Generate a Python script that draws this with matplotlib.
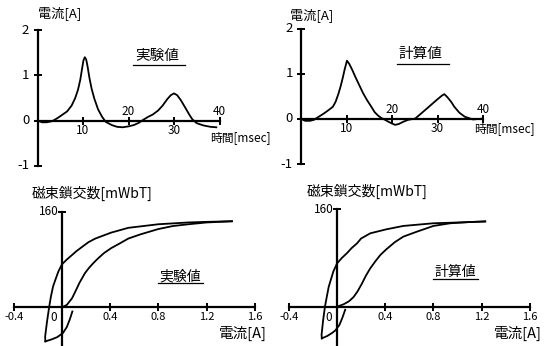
import matplotlib.pyplot as plt

plt.rcParams['font.family'] = ['Noto Sans CJK JP', 'DejaVu Sans']

W, H = 560, 346

# ---- current waveforms (time [msec], current [A]) ----
t_exp = [0, 1, 2, 3, 3.5, 4.5, 5.5, 6.5, 7.5, 8.3, 8.9, 9.4, 9.8, 10.1, 10.4, 10.7,
         11.0, 11.4, 11.9, 12.5, 13.3, 14.2, 15.0, 16.3, 17.5, 18.7, 20.0, 21.2,
         22.3, 23.3, 24.3, 25.3, 26.5, 27.5, 28.5, 29.3, 30.0, 30.7, 31.5, 32.5,
         33.3, 34.0, 35.0, 36.5, 38.0, 39.3]
i_exp = [0, -0.04, -0.04, -0.02, 0, 0.06, 0.13, 0.2, 0.33, 0.5, 0.68, 0.9, 1.15,
         1.33, 1.4, 1.35, 1.2, 0.95, 0.7, 0.48, 0.25, 0.08, -0.03, -0.1, -0.14,
         -0.15, -0.13, -0.1, -0.05, 0.02, 0.08, 0.13, 0.22, 0.33, 0.47, 0.56, 0.6,
         0.56, 0.45, 0.28, 0.14, 0.03, -0.06, -0.11, -0.14, -0.15]

t_calc = [0, 0.9, 2.0, 2.8, 3.9, 5.0, 6.1, 7.0, 7.6, 8.2, 8.7, 9.2, 9.6, 10.1, 10.6,
          11.2, 12.0, 12.8, 13.6, 14.5, 15.4, 16.2, 17.0, 17.7, 18.5, 19.2, 20.0,
          20.7, 21.5, 22.5, 23.5, 25.1, 26.5, 28.1, 29.8, 31.0, 31.5, 32.2, 33.0,
          33.7, 34.8, 36.0, 37.8, 40.0]
i_calc = [0, -0.04, -0.04, -0.02, 0.05, 0.12, 0.2, 0.27, 0.38, 0.55, 0.72, 0.92,
          1.1, 1.29, 1.22, 1.1, 0.92, 0.75, 0.58, 0.42, 0.28, 0.15, 0.07, 0.02,
          -0.02, -0.06, -0.1, -0.13, -0.11, -0.06, -0.02, 0.01, 0.13, 0.27, 0.42,
          0.52, 0.55, 0.48, 0.38, 0.27, 0.14, 0.05, -0.01, 0.01]

# ---- flux linkage loops (current [A], flux linkage [mWbT]) ----
exp_up_i = [1.41, 1.2, 1.05, 0.8, 0.55, 0.408, 0.276, 0.22, 0.166, 0.12, 0.083, 0.04,
            0, -0.03, -0.055, -0.074, -0.092, -0.107, -0.125, -0.14, -0.138]
exp_up_f = [144, 143, 142, 139, 133, 125, 115, 109, 101, 94, 87.5, 80, 72, 60, 46, 35,
            18, 0, -25, -49, -57]
exp_ret_i = [-0.138, -0.09, -0.04, 0.008, 0.04, 0.065, 0.086]
exp_ret_f = [-57, -54, -50, -43, -33, -20, -7]
exp_rise_i = [0, 0.04, 0.083, 0.105, 0.124, 0.145, 0.166, 0.19, 0.22, 0.26, 0.30, 0.35,
              0.408, 0.48, 0.55, 0.65, 0.8, 0.92, 1.05, 1.2, 1.41]
exp_rise_f = [0, 4, 15, 24, 32, 41, 48.5, 57, 65, 74, 82, 91, 99, 107, 115, 122, 131,
              136, 139, 142, 144]

calc_up_i = [1.23, 1.05, 0.8, 0.55, 0.408, 0.276, 0.2, 0.166, 0.12, 0.083, 0.04, 0,
             -0.03, -0.05, -0.069, -0.085, -0.1, -0.115, -0.128, -0.126]
calc_up_f = [140, 138.6, 137, 132.6, 127, 120.5, 112, 104, 96, 88, 80, 71, 58, 45,
             32.5, 16, 0, -22, -46, -52]
calc_ret_i = [-0.126, -0.08, -0.04, -0.014, 0.02, 0.045, 0.068]
calc_ret_f = [-52, -48, -43, -39, -30, -18, -5]
calc_rise_i = [0, 0.055, 0.1, 0.138, 0.17, 0.207, 0.24, 0.276, 0.32, 0.36, 0.408, 0.48,
               0.55, 0.66, 0.8, 0.94, 1.1, 1.23]
calc_rise_f = [0, 4, 9, 16, 25, 38, 51, 63, 75, 85, 94, 106, 115, 123, 132.6, 137, 139,
               140]

time_ticks = [10, 20, 30, 40]
time_labels = ['10', '20', '30', '40']
amp_ticks = [-1, 0, 1, 2]
amp_labels = ['-1', '0', '1', '2']
cur_ticks = [-0.4, 0.4, 0.8, 1.2, 1.6]
cur_labels = ['-0.4', '0.4', '0.8', '1.2', '1.6']
flux_ticks = [160]
flux_labels = ['160']


def make_axes(x0, sx, y0, sy, xlim, ylim):
    # x0,y0: pixel position of the data origin, sx,sy: pixels per data unit
    left = x0 + xlim[0] * sx
    right = x0 + xlim[1] * sx
    top = y0 - ylim[1] * sy
    bottom = y0 - ylim[0] * sy
    ax = fig.add_axes([left / W, 1 - bottom / H, (right - left) / W, (bottom - top) / H])
    ax.set_xlim(xlim)
    ax.set_ylim(ylim)
    ax.patch.set_alpha(0)
    for s in ['top', 'right']:
        ax.spines[s].set_visible(False)
    ax.spines['left'].set_position(('data', 0))
    ax.spines['bottom'].set_position(('data', 0))
    for s in ['left', 'bottom']:
        ax.spines[s].set_linewidth(1.6)
    ax.tick_params(direction='inout', length=6, width=1.4, labelleft=False, labelbottom=False)
    return ax


fig = plt.figure(figsize=(W / 100, H / 100), dpi=100)

# ---- top panels: current vs time ----
for x0, y0, ts, cs, name, ylab_x, ylab_y, xlab_y in [
        (37.5, 120.5, t_exp, i_exp, '実験値', 0.1, 2.38, -0.37),
        (301, 119, t_calc, i_calc, '計算値', -2.4, 2.3, -0.22)]:
    ax = make_axes(x0, 4.55, y0, 45.2, (-2.5, 43), (-1.1, 2.25))
    ax.spines['left'].set_bounds(-1, 2)
    ax.spines['bottom'].set_bounds(0, 40)
    ax.set_xticks(time_ticks)
    ax.set_yticks(amp_ticks)
    ax.plot(ts, cs, color='black', lw=1.3)
    for t, lab in zip(time_ticks, time_labels):
        dy = -0.22 if t in (10, 30) else 0.2
        ax.text(t, dy, lab, ha='center', va='center', fontsize=8.5)
    for a, lab in zip(amp_ticks, amp_labels):
        ax.text(-1.8, a, lab, ha='right', va='center', fontsize=9.5)
    ax.text(ylab_x, ylab_y, '電流[A]', ha='left', va='center', fontsize=9.5, clip_on=False)
    ax.text(38, xlab_y, '時間[msec]', ha='left', va='center', fontsize=8.5)
    ax.text(26.3, 1.43, name, ha='center', va='center', fontsize=10.5)
    ax.plot([21, 32.5], [1.22, 1.22], color='black', lw=0.9)

# ---- bottom panels: flux linkage vs current ----
for x0, y0, sy, up, ret, rise, name, ny in [
        (62, 307.3, 0.5975, (exp_up_i, exp_up_f), (exp_ret_i, exp_ret_f),
         (exp_rise_i, exp_rise_f), '実験値', 52),
        (337, 306.7, 0.609, (calc_up_i, calc_up_f), (calc_ret_i, calc_ret_f),
         (calc_rise_i, calc_rise_f), '計算値', 57)]:
    ylo = -(H - y0) / sy
    ax = make_axes(x0, 120.5, y0, sy, (-0.45, 1.75), (ylo, 175))
    ax.spines['left'].set_bounds(ylo, 160)
    ax.spines['bottom'].set_bounds(-0.4, 1.6)
    ax.set_xticks(cur_ticks + [0])
    ax.set_yticks(flux_ticks)
    for xs, ys in (up, ret, rise):
        ax.plot(xs, ys, color='black', lw=1.3)
    for c, lab in zip(cur_ticks, cur_labels):
        ax.text(c, -17, lab, ha='center', va='center', fontsize=8)
    ax.text(-0.04, -17, '0', ha='right', va='center', fontsize=8.5)
    for f, lab in zip(flux_ticks, flux_labels):
        ax.text(-0.03, f, lab, ha='right', va='center', fontsize=8.5)
    ax.text(-0.25, 190, '磁束鎖交数[mWbT]', ha='left', va='center', fontsize=10, clip_on=False)
    ax.text(1.3, -44, '電流[A]', ha='left', va='center', fontsize=10.5)
    ax.text(0.98, ny, name, ha='center', va='center', fontsize=10)
    ax.plot([0.8, 1.17], [ny - 12, ny - 12], color='black', lw=0.9)

fig.savefig('out.png', dpi=100)
